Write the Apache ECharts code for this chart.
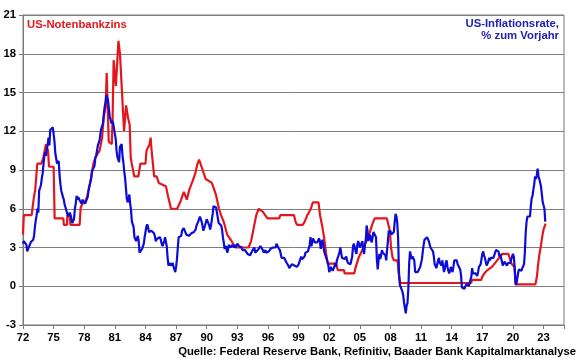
<!DOCTYPE html>
<html><head><meta charset="utf-8">
<script src="https://cdn.jsdelivr.net/npm/echarts@6/dist/echarts.min.js"></script>
<style>html,body{margin:0;padding:0;background:#fff}#c{width:580px;height:359px}</style>
</head><body><div id="c"></div>
<script>
const xTickLabels = ['72','75','78','81','84','87','90','93','96','99','02','05','08','11','14','17','20','23'];
const firstYear = 1972;
// US inflation, % y/y, monthly from Jan 1972
const inflation = [
3.3,3.5,3.5,3.5,3.2,2.7,2.9,2.9,3.2,3.4,3.5,3.4,
3.6,3.9,4.6,5.1,5.5,6.0,5.7,7.4,7.4,7.8,8.3,8.7,
9.4,10.0,10.4,10.1,10.7,10.9,11.5,10.9,12.1,12.1,12.2,12.3,
11.8,11.2,10.3,10.2,9.5,9.4,9.7,8.6,7.9,7.4,7.4,6.9,
6.7,6.3,6.1,6.0,6.2,5.4,5.4,5.7,5.5,5.5,4.9,4.9,
5.2,6.0,6.4,7.0,6.7,6.9,6.8,6.6,6.6,6.4,6.7,6.7,
6.8,6.4,6.4,6.5,6.9,7.4,7.7,7.8,8.3,8.9,8.9,9.0,
9.3,9.9,10.1,10.5,10.9,10.9,11.3,11.8,12.2,12.1,12.6,13.3,
13.9,14.2,14.8,14.7,14.4,14.4,13.1,12.9,12.6,12.8,12.6,12.5,
11.8,11.4,10.5,10.0,9.8,9.6,10.8,10.8,11.0,10.1,9.6,8.9,
8.4,7.6,6.8,6.5,6.7,7.1,6.4,5.9,5.0,5.1,4.6,3.8,
3.7,3.5,3.6,3.9,3.5,2.6,2.5,2.6,2.9,2.9,3.3,3.8,
4.2,4.6,4.8,4.6,4.2,4.2,4.2,4.3,4.3,4.3,4.1,3.9,
3.5,3.5,3.7,3.7,3.8,3.8,3.6,3.3,3.1,3.2,3.5,3.8,
3.9,3.1,2.2,1.6,1.5,1.8,1.6,1.6,1.8,1.5,1.3,1.1,
1.5,2.1,3.0,3.8,3.9,3.7,3.9,4.3,4.4,4.5,4.5,4.4,
4.0,3.9,3.9,3.9,3.9,4.0,4.1,4.0,4.2,4.2,4.2,4.4,
4.7,4.8,5.0,5.1,5.4,5.2,5.0,4.7,4.3,4.5,4.7,4.6,
5.2,5.3,5.2,4.7,4.4,4.7,4.8,5.6,6.2,6.3,6.3,6.1,
5.7,5.3,4.9,4.9,5.0,4.7,4.4,3.8,3.4,2.9,3.0,3.1,
2.6,2.8,3.2,3.2,3.0,3.1,3.2,3.1,3.0,3.2,3.0,2.9,
3.3,3.2,3.1,3.2,3.2,3.0,2.8,2.8,2.7,2.8,2.7,2.7,
2.5,2.5,2.5,2.4,2.3,2.5,2.8,2.9,3.0,2.6,2.7,2.7,
2.8,2.9,2.9,3.1,3.2,3.0,2.8,2.6,2.5,2.8,2.6,2.5,
2.7,2.7,2.8,2.9,2.9,2.8,3.0,2.9,3.0,3.0,3.3,3.3,
3.0,3.0,2.8,2.5,2.2,2.3,2.2,2.2,2.2,2.1,1.8,1.7,
1.6,1.4,1.4,1.4,1.7,1.7,1.7,1.6,1.5,1.5,1.5,1.6,
1.7,1.6,1.7,2.3,2.1,2.0,2.1,2.3,2.6,2.6,2.6,2.7,
2.7,3.2,3.8,3.1,3.2,3.7,3.7,3.4,3.5,3.4,3.4,3.4,
3.7,3.5,2.9,3.3,3.6,3.2,2.7,2.7,2.6,2.1,1.9,1.6,
1.1,1.1,1.5,1.6,1.2,1.1,1.5,1.8,1.5,2.0,2.2,2.4,
2.6,3.0,3.0,2.2,2.1,2.1,2.1,2.2,2.3,2.0,1.8,1.9,
1.9,1.7,1.7,2.3,3.1,3.3,3.0,2.7,2.5,3.2,3.5,3.3,
3.0,3.0,3.1,3.5,2.8,2.5,3.2,3.6,4.7,4.3,3.5,3.4,
4.0,3.6,3.4,3.5,4.2,4.3,4.1,3.8,2.1,1.3,2.0,2.5,
2.1,2.4,2.8,2.6,2.7,2.7,2.4,2.0,2.8,3.5,4.3,4.1,
4.3,4.0,4.0,3.9,4.2,5.0,5.6,5.4,4.9,3.7,1.1,0.1,
0.0,0.2,-0.4,-0.7,-1.3,-1.4,-2.1,-1.5,-1.3,-0.2,1.8,2.7,
2.6,2.1,2.3,2.2,2.0,1.1,1.2,1.1,1.1,1.2,1.1,1.5,
1.6,2.1,2.7,3.2,3.6,3.6,3.6,3.8,3.9,3.5,3.4,3.0,
2.9,2.9,2.7,2.3,1.7,1.7,1.4,1.7,2.0,2.2,1.8,1.7,
1.6,2.0,1.5,1.1,1.4,1.8,2.0,1.5,1.2,1.0,1.2,1.5,
1.6,1.1,1.5,2.0,2.1,2.1,2.0,1.7,1.7,1.7,1.3,0.8,
-0.1,0.0,-0.1,-0.2,0.0,0.1,0.2,0.2,0.0,0.2,0.5,0.7,
1.4,1.0,0.9,1.1,1.0,1.0,0.8,1.1,1.5,1.6,1.7,2.1,
2.5,2.7,2.4,2.2,1.9,1.6,1.7,1.9,2.2,2.0,2.2,2.1,
2.1,2.2,2.4,2.5,2.8,2.9,2.9,2.7,2.3,2.5,2.2,1.9,
1.6,1.5,1.9,2.0,1.8,1.6,1.8,1.7,1.7,1.8,2.1,2.3,
2.5,2.3,1.5,0.3,0.1,0.6,1.0,1.3,1.4,1.2,1.2,1.4,
1.4,1.7,2.6,4.2,5.0,5.4,5.4,5.3,5.4,6.2,6.8,7.0,
7.5,7.9,8.5,8.3,8.6,9.1,8.5,8.3,8.2,7.7,7.1,6.5,
6.4,6.0,5.0
];
// US policy rate, %: dates (decimal years) and values
const rateYears = [
1972.0,1972.08,1972.85,1973.05,1973.2,1973.4,1973.8,1974.0,1974.25,1974.45,1974.55,1975.0,1975.1,1975.95,1976.0,1976.3,1976.35,1976.55,1976.65,1977.55,
1977.65,1977.9,1978.1,1978.3,1978.5,1978.7,1978.9,1979.1,1979.5,1979.75,1979.9,1980.1,1980.2,1980.33,1980.4,1980.7,1980.78,1980.88,1981.1,1981.2,
1981.35,1981.5,1981.6,1981.9,1982.1,1982.3,1982.45,1982.55,1982.65,1982.9,1983.3,1983.5,1984.0,1984.1,1984.4,1984.5,1984.6,1984.85,1985.1,1985.3,
1986.0,1986.2,1986.5,1987.1,1987.4,1987.75,1988.05,1988.3,1988.6,1988.9,1989.1,1989.25,1989.6,1989.9,1990.5,1990.9,1991.2,1991.4,1991.7,1992.0,
1992.35,1992.8,1994.1,1994.35,1994.6,1994.85,1995.1,1995.5,1995.95,1997.1,1997.2,1998.55,1998.7,1998.85,1999.4,1999.6,1999.85,2000.2,2000.4,2000.95,
2001.1,2001.35,2001.5,2001.7,2001.85,2002.65,2002.85,2003.45,2003.5,2004.45,2004.6,2004.9,2005.2,2005.5,2005.8,2006.0,2006.2,2006.45,2007.65,2007.8,
2007.95,2008.05,2008.2,2008.35,2008.7,2008.8,2008.95,2015.9,2016.0,2016.9,2017.0,2017.2,2017.5,2017.95,2018.2,2018.45,2018.7,2018.95,2019.55,2019.65,
2019.75,2019.85,2020.15,2020.25,2022.2,2022.35,2022.45,2022.6,2022.75,2022.9,2023.0,2023.2
];
const rateValues = [
4.0,5.5,5.5,6.8,7.5,9.5,9.5,10.0,11.0,10.5,9.25,9.25,5.25,5.25,4.75,4.75,5.5,5.5,4.75,4.75,
6.1,6.5,6.5,7.0,7.75,8.5,9.5,10.0,10.5,11.5,13.0,14.0,16.5,13.0,11.2,11.0,13.0,17.5,15.5,15.5,
19.0,18.0,18.0,12.0,14.0,13.0,12.5,10.0,9.5,8.5,8.5,9.5,9.5,10.5,11.0,11.5,10.5,8.5,8.5,8.0,
7.75,7.0,6.0,6.0,6.5,7.3,6.7,7.5,8.1,8.8,9.5,9.8,9.0,8.3,8.0,7.1,6.0,5.5,4.9,4.0,
3.6,3.0,3.0,3.5,4.5,5.5,6.0,5.75,5.25,5.25,5.5,5.5,5.0,4.75,4.75,5.0,5.5,6.0,6.5,6.5,
5.5,4.5,3.75,2.5,1.75,1.75,1.25,1.25,1.0,1.0,1.5,2.25,2.75,3.25,3.75,4.25,4.75,5.25,5.25,4.75,
4.25,3.0,2.25,2.0,2.0,1.0,0.25,0.25,0.5,0.5,0.75,1.0,1.25,1.5,1.75,2.0,2.25,2.5,2.5,2.25,
2.0,1.75,1.5,0.15,0.15,0.75,1.6,2.5,3.2,4.0,4.4,4.85
];

const inflationData = inflation.map((v, i) => [i / 12, v]);
const rateData = rateYears.map((y, i) => [y - firstYear, rateValues[i]]);

const FONT = 'Arial, "Liberation Sans", sans-serif';
const chart = echarts.init(document.getElementById('c'), null, {renderer: 'canvas'});
chart.setOption({
  animation: false,
  backgroundColor: '#ffffff',
  grid: {left: 23, right: 16, top: 15, bottom: 34, show: true, borderColor: '#7a7a7a', borderWidth: 1, containLabel: false},
  xAxis: {
    type: 'value', min: 0, max: 53, interval: 3,
    axisLine: {show: true, onZero: false, lineStyle: {color: '#7a7a7a', width: 1}},
    axisTick: {show: true, length: 4, lineStyle: {color: '#7a7a7a'}},
    splitLine: {show: false},
    axisLabel: {
      margin: 7, color: '#000', fontWeight: 'bold', fontSize: 11.3, fontFamily: FONT,
      formatter: v => xTickLabels[Math.round(v / 3)] || ''
    }
  },
  yAxis: {
    type: 'value', min: -3, max: 21, interval: 3,
    axisLine: {show: true, lineStyle: {color: '#7a7a7a', width: 1}},
    axisTick: {show: true, length: 4, lineStyle: {color: '#7a7a7a'}},
    splitLine: {show: true, lineStyle: {color: '#7e7e7e', width: 1}},
    axisLabel: {margin: 7, color: '#000', fontWeight: 'bold', fontSize: 11.3, fontFamily: FONT}
  },
  series: [
    {type: 'line', name: 'US-Notenbankzins', data: rateData, showSymbol: false, symbol: 'none',
     lineStyle: {color: '#e4161d', width: 2.2}, z: 2},
    {type: 'line', name: 'US-Inflationsrate', data: inflationData, showSymbol: false, symbol: 'none',
     lineStyle: {color: '#0c0cd6', width: 2.2}, z: 3}
  ],
  graphic: [
    {type: 'text', left: 27, top: 19, style: {text: 'US-Notenbankzins', fill: '#e4161d', fontSize: 11.3, fontWeight: 'bold', fontFamily: FONT}},
    {type: 'text', right: 21, top: 18, style: {text: 'US-Inflationsrate,', fill: '#2020b4', fontSize: 11.3, fontWeight: 'bold', fontFamily: FONT}},
    {type: 'text', right: 21, top: 30, style: {text: '% zum Vorjahr', fill: '#2020b4', fontSize: 11.3, fontWeight: 'bold', fontFamily: FONT}},
    {type: 'text', right: 4, top: 346, style: {text: 'Quelle: Federal Reserve Bank, Refinitiv, Baader Bank Kapitalmarktanalyse', fill: '#000', fontSize: 11.3, fontWeight: 'bold', fontFamily: FONT}}
  ]
});
</script>
</body></html>
